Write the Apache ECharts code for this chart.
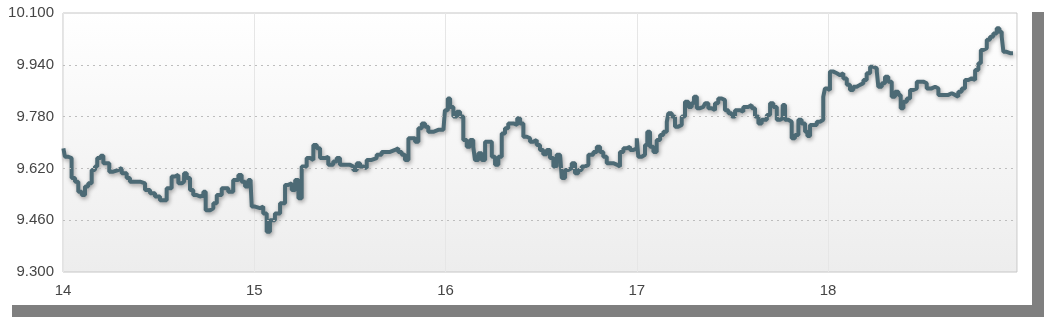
<!DOCTYPE html>
<html>
<head>
<meta charset="utf-8">
<script src="https://cdn.jsdelivr.net/npm/echarts@6/dist/echarts.min.js"></script>
<style>
html,body{margin:0;padding:0;background:#fff;}
#chart{width:1044px;height:317px;}
</style>
</head>
<body>
<div id="chart"></div>
<script>
// Time in days (14 = start of day 14), price values
const times = [
14.002,14.010,14.028,14.045,14.063,14.080,14.098,14.115,14.132,14.150,14.167,14.179,14.197,14.211,14.229,14.242,14.263,14.289,14.307,14.333,14.350,14.376,14.403,14.429,14.455,14.481,14.507,14.524,14.542,14.568,14.586,14.603,14.621,14.633,14.647,14.664,14.681,14.699,14.716,14.734,14.746,14.769,14.786,14.804,14.830,
14.847,14.864,14.890,14.917,14.934,14.952,14.969,14.981,14.987,15.004,15.030,15.047,15.065,15.082,15.108,15.135,15.161,15.178,15.196,15.214,15.231,15.248,15.274,15.292,15.309,15.327,15.344,15.370,15.387,15.413,15.431,15.448,15.475,15.501,15.518,15.536,15.553,15.570,15.588,15.614,15.640,15.666,
15.684,15.710,15.736,15.753,15.771,15.788,15.806,15.823,15.841,15.858,15.876,15.893,15.910,15.936,15.962,15.989,15.997,16.012,16.024,16.041,16.059,16.076,16.093,16.111,16.128,16.145,16.154,16.172,16.189,16.207,16.224,16.242,16.259,16.276,16.294,16.311,16.328,16.355,16.375,16.390,16.407,16.425,16.442,16.459,16.477,16.494,16.511,
16.529,16.546,16.564,16.581,16.599,16.608,16.625,16.642,16.660,16.677,16.694,16.712,16.729,16.747,16.773,16.791,16.808,16.825,16.843,16.860,16.877,16.898,16.912,16.930,16.947,16.965,16.982,17.000,17.008,17.026,17.043,17.055,17.069,17.087,17.104,17.122,17.139,17.157,17.165,17.183,17.200,17.217,17.235,17.252,17.270,17.287,17.299,17.314,17.331,17.348,
17.357,17.374,17.392,17.409,17.426,17.444,17.461,17.479,17.497,17.514,17.540,17.557,17.583,17.601,17.618,17.636,17.653,17.680,17.697,17.714,17.732,17.749,17.763,17.775,17.792,17.810,17.827,17.845,17.862,17.880,17.892,17.906,17.923,17.941,17.958,17.975,17.984,17.996,18.010,18.028,18.046,18.063,18.080,18.098,18.115,18.132,18.150,18.167,18.185,
18.202,18.220,18.237,18.255,18.263,18.281,18.298,18.315,18.333,18.350,18.368,18.380,18.394,18.412,18.429,18.446,18.464,18.481,18.498,18.516,18.542,18.560,18.577,18.595,18.612,18.629,18.647,18.664,18.681,18.699,18.716,18.734,18.751,18.769,18.786,18.799,18.812,18.830,18.847,18.864,18.882,18.896,18.908,18.917,18.934,18.952,18.967
];
const prices = [
9.682,9.656,9.652,9.590,9.579,9.548,9.538,9.564,9.574,9.615,9.626,9.652,9.659,9.636,9.636,9.610,9.615,9.621,9.605,9.590,9.579,9.579,9.574,9.553,9.543,9.533,9.522,9.522,9.559,9.595,9.600,9.574,9.579,9.605,9.590,9.553,9.538,9.533,9.538,9.548,9.491,9.497,9.512,9.538,9.559,
9.559,9.548,9.584,9.600,9.579,9.564,9.584,9.574,9.502,9.497,9.502,9.481,9.424,9.460,9.481,9.512,9.569,9.574,9.553,9.584,9.528,9.626,9.652,9.646,9.692,9.682,9.652,9.656,9.631,9.641,9.652,9.631,9.631,9.626,9.615,9.636,9.626,9.621,9.646,9.652,9.662,9.671,
9.671,9.677,9.682,9.671,9.662,9.646,9.713,9.713,9.702,9.744,9.759,9.749,9.733,9.739,9.739,9.744,9.800,9.836,9.810,9.780,9.795,9.780,9.708,9.687,9.708,9.687,9.646,9.667,9.646,9.702,9.702,9.656,9.631,9.656,9.728,9.744,9.759,9.754,9.775,9.759,9.718,9.713,9.702,9.708,9.692,9.677,9.664,
9.677,9.652,9.626,9.662,9.656,9.590,9.615,9.621,9.636,9.605,9.615,9.626,9.631,9.662,9.671,9.687,9.671,9.656,9.636,9.636,9.631,9.626,9.671,9.682,9.687,9.677,9.682,9.713,9.656,9.662,9.692,9.733,9.687,9.671,9.708,9.723,9.733,9.764,9.790,9.780,9.749,9.754,9.780,9.826,9.810,9.821,9.841,9.806,9.810,9.806,
9.821,9.806,9.800,9.821,9.836,9.831,9.800,9.790,9.780,9.800,9.795,9.810,9.816,9.806,9.780,9.759,9.770,9.785,9.821,9.810,9.770,9.775,9.816,9.770,9.764,9.713,9.723,9.770,9.759,9.733,9.720,9.754,9.754,9.764,9.770,9.841,9.867,9.862,9.919,9.914,9.908,9.914,9.898,9.878,9.862,9.872,9.878,9.883,9.893,
9.914,9.934,9.929,9.919,9.872,9.883,9.903,9.888,9.841,9.857,9.847,9.806,9.826,9.836,9.862,9.867,9.888,9.888,9.883,9.867,9.872,9.867,9.847,9.847,9.847,9.852,9.847,9.841,9.857,9.867,9.893,9.898,9.893,9.924,9.945,9.986,9.991,10.017,10.027,10.037,10.053,10.042,10.027,9.980,9.976,9.976,9.976
];
const yTickValues = [9.300, 9.460, 9.620, 9.780, 9.940, 10.100];
const yGridValues = [9.460, 9.620, 9.780, 9.940];
const xMin = 14, xMax = 18.988;

const seriesData = times.map((t, i) => [t, prices[i]]);
const FONT = '"Liberation Sans", Arial, sans-serif';

const chart = echarts.init(document.getElementById('chart'), null, {renderer: 'canvas'});
chart.setOption({
  animation: false,
  backgroundColor: '#ffffff',
  graphic: [
    {type: 'rect', z: -10, shape: {x: 1032, y: 12, width: 12, height: 305}, style: {fill: '#7f7f7f'}},
    {type: 'rect', z: -10, shape: {x: 12, y: 305, width: 1032, height: 12}, style: {fill: '#7f7f7f'}}
  ],
  grid: {
    left: 63, right: 27, top: 13, bottom: 45,
    show: true,
    borderColor: '#c6c6c6',
    borderWidth: 1,
    backgroundColor: new echarts.graphic.LinearGradient(0, 0, 0, 1, [
      {offset: 0, color: '#ffffff'},
      {offset: 1, color: '#ededed'}
    ])
  },
  xAxis: {
    type: 'value',
    min: xMin, max: xMax, interval: 1,
    axisLine: {show: false},
    axisTick: {show: false},
    splitLine: {show: true, lineStyle: {color: '#e6e6e6', width: 1}},
    axisLabel: {
      showMaxLabel: false,
      margin: 11,
      fontFamily: FONT, fontSize: 15, color: '#454545',
      formatter: v => (Math.abs(v - Math.round(v)) < 1e-6 ? String(Math.round(v)) : '')
    }
  },
  yAxis: {
    type: 'value',
    min: 9.3, max: 10.1,
    axisLine: {show: false},
    axisTick: {show: false},
    splitLine: {show: false},
    axisLabel: {
      customValues: yTickValues,
      margin: 9,
      fontFamily: FONT, fontSize: 15, color: '#454545',
      formatter: v => v.toFixed(3)
    }
  },
  series: [{
    type: 'line',
    data: seriesData,
    step: 'end',
    showSymbol: false,
    symbol: 'none',
    lineStyle: {
      color: '#4c6a75',
      width: 4,
      shadowColor: 'rgba(0,0,0,0.35)',
      shadowBlur: 4,
      shadowOffsetX: 1,
      shadowOffsetY: 2
    },
    z: 3,
    markLine: {
      silent: true,
      symbol: 'none',
      label: {show: false},
      lineStyle: {type: [2, 4], color: '#bdbdbd', width: 1, shadowBlur: 0},
      data: yGridValues.map(v => ({yAxis: v}))
    }
  }]
});
</script>
</body>
</html>
